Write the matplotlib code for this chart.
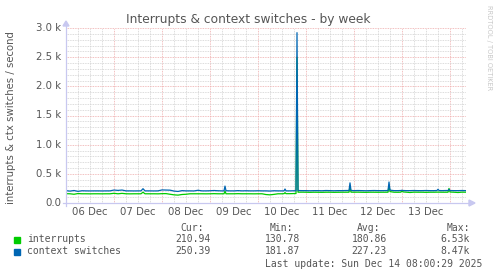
import matplotlib
matplotlib.use("Agg")
import matplotlib.pyplot as plt
from matplotlib.ticker import FixedLocator, MultipleLocator

W, H = 497, 276

# hours since 06 Dec 00:00
hours = [0, 2, 4, 6, 8, 10, 12, 14, 16, 18, 20, 22,
         24, 26, 28, 30, 32, 34, 36, 37.5, 38.5, 39.5, 42, 44, 46,
         48, 50, 52, 54, 56, 58, 60, 62, 64, 66, 68, 70,
         72, 74, 76, 78, 79, 79.5, 80, 82, 84, 86, 88, 90, 92, 94,
         96, 98, 100, 102, 104, 106, 108, 109, 109.5, 110, 112, 114, 115, 115.5, 116, 118,
         120, 122, 124, 126, 128, 130, 132, 134, 136, 138, 140, 141.5, 142, 142.5,
         144, 146, 148, 150, 152, 154, 156, 158, 160, 161, 161.5, 162, 164, 166, 167.5, 168, 168.5,
         170, 172, 174, 176, 178, 180, 182, 184, 185.5, 186, 186.5, 188, 190, 191, 191.5, 192, 194, 196, 198, 200]
ctx = [212, 204, 214, 200, 210, 208, 207, 208, 208, 207, 208, 208,
       222, 216, 222, 208, 208, 207, 208, 208, 245, 208, 208, 207, 208,
       224, 222, 220, 205, 198, 212, 208, 208, 207, 218, 208, 208,
       210, 214, 210, 208, 208, 290, 210, 208, 208, 212, 208, 210, 208, 208,
       210, 208, 208, 205, 210, 208, 208, 208, 240, 208, 208, 210, 210, 2920, 214, 212,
       212, 210, 212, 212, 210, 214, 212, 210, 212, 212, 214, 214, 345, 215,
       212, 214, 212, 210, 212, 214, 212, 212, 213, 213, 360, 220, 212, 212, 214, 218, 214,
       212, 212, 214, 212, 212, 214, 212, 212, 214, 235, 214, 212, 214, 214, 232, 214, 212, 212, 214, 212]
intr = [160, 158, 150, 162, 158, 158, 157, 158, 158, 157, 158, 158,
        166, 158, 165, 158, 157, 158, 158, 158, 185, 158, 158, 158, 157,
        160, 161, 150, 140, 135, 146, 150, 158, 158, 158, 158, 157,
        158, 160, 158, 158, 158, 205, 158, 158, 158, 160, 158, 158, 158, 157,
        158, 158, 145, 140, 148, 158, 158, 160, 178, 160, 160, 162, 162, 2500, 185, 186,
        185, 183, 185, 184, 183, 185, 185, 183, 184, 185, 185, 185, 275, 186,
        185, 186, 184, 183, 185, 185, 184, 185, 185, 185, 290, 195, 185, 184, 186, 215, 190,
        186, 180, 186, 185, 185, 183, 185, 185, 186, 186, 186, 185, 185, 185, 250, 188, 185, 180, 186, 185]
assert len(hours) == len(ctx) == len(intr)

day_labels = ["06 Dec", "07 Dec", "08 Dec", "09 Dec", "10 Dec", "11 Dec", "12 Dec", "13 Dec"]
y_labels = ["0.0", "0.5 k", "1.0 k", "1.5 k", "2.0 k", "2.5 k", "3.0 k"]

series_names = ["interrupts", "context switches"]
series_colors = ["#00cc00", "#0066b3"]
cur_vals = ["210.94", "250.39"]
min_vals = ["130.78", "181.87"]
avg_vals = ["180.86", "227.23"]
max_vals = ["6.53k", "8.47k"]

txt = "#555555"
fig = plt.figure(figsize=(W / 100, H / 100), dpi=100, facecolor="white")


def fx(x):
    return x / W


def fy(y):
    return 1 - y / H


# plot area: x 66..466 px, y 28..203 px
ax = fig.add_axes([fx(66), fy(203), (466 - 66) / W, (203 - 28) / H])
ax.set_facecolor("white")
ax.plot(hours, intr, color=series_colors[0], lw=0.9, zorder=3)
ax.plot(hours, ctx, color=series_colors[1], lw=0.9, zorder=4)
ax.set_xlim(0, 200)
ax.set_ylim(0, 3000)

ax.xaxis.set_major_locator(FixedLocator(range(24, 200, 24)))
ax.xaxis.set_minor_locator(MultipleLocator(6))
ax.yaxis.set_major_locator(MultipleLocator(500))
ax.yaxis.set_minor_locator(MultipleLocator(100))
ax.grid(which="minor", color="#d0d0d0", ls=(0, (1, 1)), lw=0.6)
ax.grid(which="major", color="#eeaaaa", ls=(0, (1, 1)), lw=0.6)
ax.set_axisbelow(True)
ax.tick_params(which="both", length=0, labelbottom=False, labelleft=False)
for s in ax.spines.values():
    s.set_visible(False)

# axis lines with arrows
arrow_col = "#c8c8f0"
fig.add_artist(plt.Line2D([fx(66), fx(66)], [fy(206), fy(26)], color=arrow_col, lw=0.9))
fig.add_artist(plt.Line2D([fx(63), fx(470)], [fy(203), fy(203)], color=arrow_col, lw=0.9))
fig.add_artist(plt.Polygon([[fx(63), fy(26)], [fx(69), fy(26)], [fx(66), fy(21)]],
                           closed=True, color=arrow_col, transform=fig.transFigure))
fig.add_artist(plt.Polygon([[fx(469), fy(200)], [fx(469), fy(206)], [fx(475), fy(203)]],
                           closed=True, color=arrow_col, transform=fig.transFigure))

# tick labels
for i, lab in enumerate(y_labels):
    fig.text(fx(61), fy(203 - i * 500 * 175 / 3000), lab, ha="right", va="center",
             fontsize=7.3, color=txt)
for i, lab in enumerate(day_labels):
    fig.text(fx(66 + 24 + i * 48), fy(212), lab, ha="center", va="center",
             fontsize=7.3, color=txt)

fig.text(fx(248), fy(19), "Interrupts & context switches - by week", ha="center",
         va="center", fontsize=8.8, color=txt)
fig.text(fx(11), fy(118), "interrupts & ctx switches / second", rotation=90,
         ha="center", va="center", fontsize=7.3, color=txt)
fig.text(fx(489), fy(5), "RRDTOOL / TOBI OETIKER", rotation=270, ha="center",
         va="top", fontsize=4.8, color="#c8c8c8")

# legend
mono = "DejaVu Sans Mono"
fs = 7.0
heads = [("Cur:", 204), ("Min:", 293), ("Avg:", 380), ("Max:", 470)]
for h, x in heads:
    fig.text(fx(x), fy(228), h, ha="right", va="center", fontsize=fs, family=mono, color=txt)
cols = [(cur_vals, 211), (min_vals, 300), (avg_vals, 387), (max_vals, 470)]
for r in range(2):
    y = 239.5 + r * 12
    fig.add_artist(plt.Rectangle((fx(14), fy(y + 3)), 6 / W, 6 / H, color=series_colors[r],
                                 transform=fig.transFigure))
    fig.text(fx(27), fy(y), series_names[r], ha="left", va="center", fontsize=fs,
             family=mono, color=txt)
    for vals, x in cols:
        fig.text(fx(x), fy(y), vals[r], ha="right", va="center", fontsize=fs,
                 family=mono, color=txt)
fig.text(fx(482), fy(264), "Last update: Sun Dec 14 08:00:29 2025", ha="right",
         va="center", fontsize=fs, family=mono, color=txt)

fig.savefig("out.png", dpi=100, facecolor="white")
